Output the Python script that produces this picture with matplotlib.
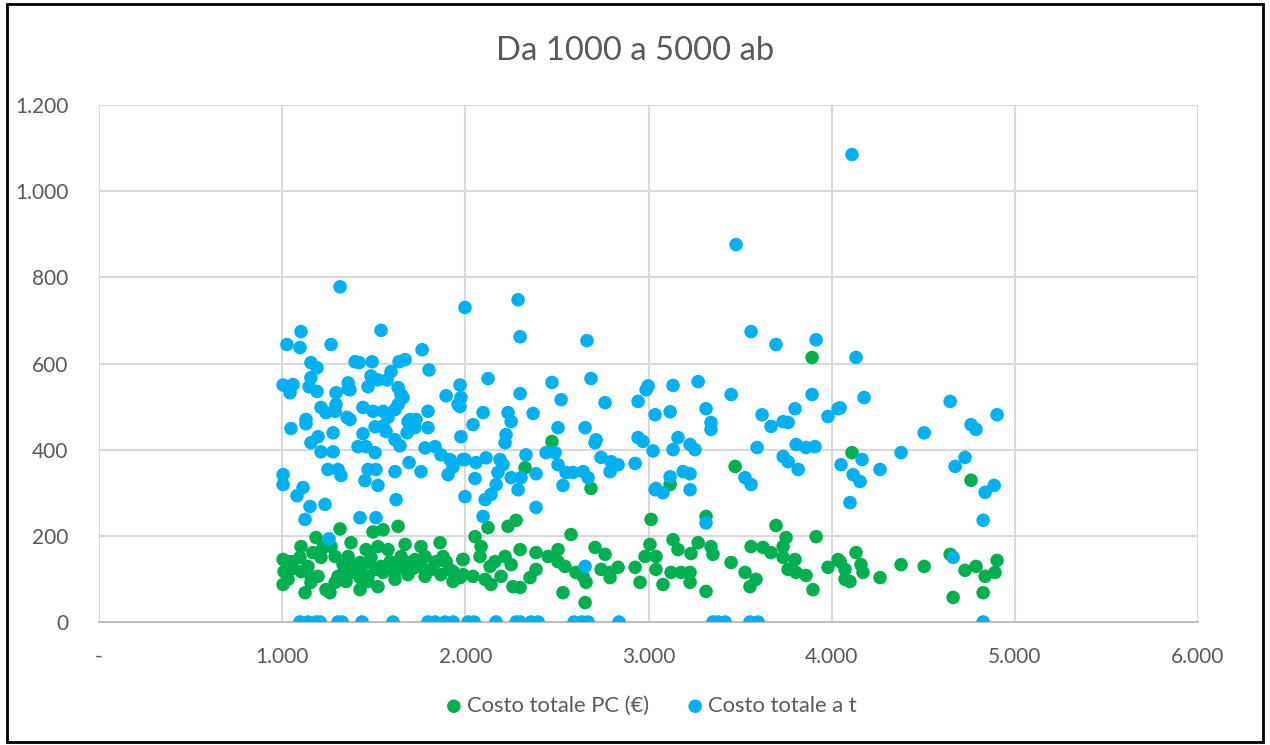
import matplotlib
matplotlib.use("Agg")
import matplotlib.pyplot as plt
from matplotlib.ticker import FixedLocator, FuncFormatter
from matplotlib.patches import Rectangle

plt.rcParams['font.family'] = ['Lato', 'DejaVu Sans']

title = "Da 1000 a 5000 ab"
label_pc = "Costo totale PC (€)"
label_t = "Costo totale a t"

x_ticks = [0, 1000, 2000, 3000, 4000, 5000, 6000]
y_ticks = [0, 200, 400, 600, 800, 1000, 1200]

# Costo totale a t (blue)
blue_x = [4111, 3478, 1316, 1998, 2288, 2299, 2664, 1103, 1026, 1097, 1267, 1540, 1764,
          1157, 1190, 1398, 1420, 1491, 1638, 1671, 1594, 1802, 1005, 1059, 1043, 1147,
          1157, 1190, 1294, 1360, 1469, 1485, 1523, 1573, 1633, 1649, 1212, 1239, 1294,
          1360, 1370, 1441, 1496, 1551, 1578, 1660, 1633, 1616, 1289, 1370, 1130, 1895,
          1971, 1960, 1796, 1731, 1698, 1354, 1048, 1130, 1157, 1196, 1278, 1212, 1278,
          1441, 1414, 1458, 1507, 1507, 1551, 1567, 1616, 1643, 1682, 1687, 1725, 1796,
          1780, 1835, 1867, 1916, 1906, 1933, 1987, 1976, 1005, 1005, 1114, 1081, 1152,
          1125, 1234, 1250, 1305, 1321, 1469, 1512, 1452, 1523, 1616, 1693, 1758, 1622,
          1425, 1512, 1256,
          2097, 2233, 2370, 2042, 2250, 2222, 2217, 2506, 2654, 2714, 2708, 2943, 2970,
          1998, 2058, 2113, 2189, 2206, 2178, 2053, 2250, 2304, 2331, 2441, 2490, 2506,
          2550, 2588, 2643, 2670, 2386, 2741, 2796, 2834, 2790, 2927, 2168, 2288, 2533,
          1998, 2108, 2140, 2097, 2386, 2654, 3036, 2124, 2299, 2473, 2523, 2686, 2763,
          2943, 2998, 2987, 3036, 1976, 1971,
          3560, 3696, 3915, 3134, 3271, 3451, 3893, 3118, 3314, 3620, 3800, 3980, 4035,
          3341, 3341, 3669, 3735, 3762, 3161, 3134, 3025, 3227, 3254, 3593, 3806, 3860,
          3909, 3735, 3762, 3817, 3118, 3189, 3227, 3041, 3079, 3227, 3527, 3560, 4051,
          3314,
          4505, 4761, 4788, 4903, 4379, 4166, 4117, 4155, 4264, 4100, 4674, 4728, 4838,
          4887, 4827, 4663, 4133, 4177, 4647, 4046,
          1097, 1141, 1185, 1207, 1305, 1327, 1436, 1605, 1796, 1835, 1889, 1933, 2015,
          2048, 2168, 2277, 2299, 2359, 2397, 2594, 2637, 2670, 2839, 3352, 3380, 3418,
          3554, 3598, 4827]
blue_y = [1085, 876, 778, 730, 748, 662, 653, 674, 644, 637, 644, 677, 632,
          602, 590, 604, 602, 604, 604, 609, 581, 585, 550, 551, 532, 546,
          567, 535, 532, 541, 546, 571, 562, 562, 544, 528, 498, 486, 505,
          555, 539, 498, 489, 489, 475, 521, 505, 493, 489, 470, 470, 525,
          550, 505, 489, 470, 470, 475, 449, 460, 416, 430, 439, 395, 395,
          437, 407, 407, 393, 453, 455, 442, 423, 409, 439, 465, 451, 451,
          404, 407, 388, 377, 342, 360, 377, 430, 342, 319, 312, 293, 268,
          238, 273, 354, 354, 340, 354, 354, 328, 317, 349, 370, 349, 284,
          242, 242, 193,
          486, 486, 484, 458, 465, 435, 416, 451, 451, 423, 416, 428, 419,
          377, 370, 381, 377, 365, 347, 333, 335, 335, 388, 393, 393, 365,
          347, 347, 349, 335, 344, 382, 372, 365, 349, 368, 319, 307, 317,
          291, 284, 296, 245, 266, 129, 307, 565, 530, 556, 516, 565, 509,
          512, 548, 539, 481, 521, 500,
          674, 644, 655, 549, 558, 528, 528, 488, 495, 481, 495, 477, 495,
          463, 447, 454, 465, 463, 428, 400, 397, 412, 400, 405, 412, 405,
          407, 384, 372, 354, 337, 349, 344, 310, 300, 307, 335, 319, 365,
          230,
          439, 458, 447, 481, 393, 377, 342, 326, 354, 277, 361, 382, 301,
          317, 236, 150, 614, 521, 512, 497,
          0, 0, 0, 0, 0, 0, 0, 0, 0, 0, 0, 0, 0,
          0, 0, 0, 0, 0, 0, 0, 0, 0, 0, 0, 0, 0,
          0, 0, 0]

# Costo totale PC (€) (green)
green_x = [1316, 1185, 1103, 1376, 1496, 1551, 1633, 1458, 1523, 1578, 1671, 1758, 1862,
           1005, 1059, 1010, 1005, 1125, 1239, 1261, 1425, 1523, 1616, 1687, 1349, 1157,
           1212, 1289, 1332, 1398, 1430, 1469, 1540, 1589, 1649, 1725, 1780, 1840, 1895,
           1916, 1867, 1813, 1758, 1714, 1987, 1971, 1933, 1360, 1305, 1196, 1103, 1048,
           1141,
           1043, 1097, 1168, 1223, 1267, 1360, 1425, 1485, 1376, 1425, 1469, 1512, 1551,
           1643, 1687, 1731, 1780, 1835, 1878, 1933, 1032, 1157, 1289, 1469, 1616,
           2473, 2326, 2686, 2277, 2233, 2124, 2053, 2577, 3014, 2086, 1987, 2080, 2162,
           2217, 2299, 2386, 2452, 2506, 2544, 2506, 2708, 2763, 2834, 2790, 2741, 2927,
           2954, 3008, 2981, 1987, 2042, 2108, 2140, 2195, 2260, 2299, 2353, 2386, 2250,
           2135, 2604, 2659, 2533, 2654, 2643, 2790,
           3473, 3118, 3314, 3696, 3915, 3134, 3271, 3161, 3232, 3341, 3352, 3041, 3041,
           3123, 3178, 3227, 3079, 3227, 3314, 3451, 3527, 3560, 3625, 3669, 3735, 3751,
           3735, 3800, 3762, 3806, 3860, 3587, 3554, 3898, 3980, 4035, 4073, 3893,
           4111, 4761, 4133, 4046, 4073, 4160, 4171, 4100, 4264, 4379, 4505, 4647, 4663,
           4728, 4788, 4838, 4892, 4903, 4827]
green_y = [216, 196, 175, 184, 209, 214, 222, 168, 175, 168, 180, 175, 184,
           145, 140, 117, 87, 68, 75, 68, 75, 82, 99, 110, 94, 106,
           150, 152, 133, 129, 115, 138, 129, 140, 152, 145, 152, 140, 140,
           122, 110, 122, 129, 124, 145, 103, 94, 122, 106, 106, 117, 122,
           129,
           140, 150, 161, 173, 175, 152, 138, 150, 115, 103, 106, 122, 115,
           129, 138, 129, 106, 138, 152, 117, 99, 92, 92, 94, 117,
           419, 358, 310, 236, 222, 219, 198, 203, 238, 175, 145, 152, 140,
           152, 168, 161, 152, 168, 129, 140, 173, 157, 127, 115, 122, 127,
           92, 180, 152, 110, 106, 99, 87, 106, 82, 80, 103, 122, 133,
           129, 115, 92, 68, 45, 106, 103,
           361, 319, 245, 224, 198, 191, 184, 168, 159, 175, 157, 152, 122,
           115, 115, 115, 87, 92, 71, 138, 115, 175, 173, 161, 175, 196,
           150, 145, 122, 115, 108, 99, 82, 75, 127, 145, 99, 614,
           393, 329, 161, 140, 122, 133, 115, 94, 103, 133, 129, 157, 57,
           120, 129, 106, 115, 143, 68]

W, H = 1270, 745
fig = plt.figure(figsize=(W / 100, H / 100), dpi=100)
ax = fig.add_axes([99 / W, 1 - 622 / H, (1198 - 99) / W, (622 - 105) / H])

text_col = '#595959'
grid_col = '#D9D9D9'
green = '#00B050'
blue = '#00B0F0'

ax.scatter(green_x, green_y, s=95, color=green, edgecolors='none', zorder=3, label=label_pc)
ax.scatter(blue_x, blue_y, s=95, color=blue, edgecolors='none', zorder=4, label=label_t)

ax.set_xlim(0, 6000)
ax.set_ylim(0, 1200)
ax.xaxis.set_major_locator(FixedLocator(x_ticks))
ax.yaxis.set_major_locator(FixedLocator(y_ticks))


def thousands(v, pos=None):
    return f"{int(v):,}".replace(",", ".")


ax.xaxis.set_major_formatter(FuncFormatter(lambda v, p: '-' if v == 0 else thousands(v)))
ax.yaxis.set_major_formatter(FuncFormatter(thousands))

ax.grid(True, color=grid_col, linewidth=1.5, zorder=0)
ax.set_axisbelow(True)
for s in ['top', 'right', 'left']:
    ax.spines[s].set_visible(False)
ax.spines['bottom'].set_color('#BFBFBF')
ax.spines['bottom'].set_linewidth(1.5)
ax.tick_params(axis='both', length=0, colors=text_col, labelsize=15)
ax.tick_params(axis='y', pad=22)
ax.tick_params(axis='x', pad=18)

fig.text(0.5, 1 - 51 / H, title, ha='center', va='center', fontsize=23.6, color=text_col)

leg = fig.legend(loc='center', bbox_to_anchor=(650 / W, 1 - 706 / H), ncol=2, frameon=False,
                 fontsize=15.8, handletextpad=0.1, columnspacing=1.6, markerscale=1.0,
                 handlelength=1.0, labelcolor=text_col)

fig.patches.append(Rectangle((7 / W, 1 - 742 / H), (1263 - 7) / W, (742 - 4) / H,
                             transform=fig.transFigure, fill=False, edgecolor='black',
                             linewidth=2))

fig.savefig('out.png', dpi=100)
